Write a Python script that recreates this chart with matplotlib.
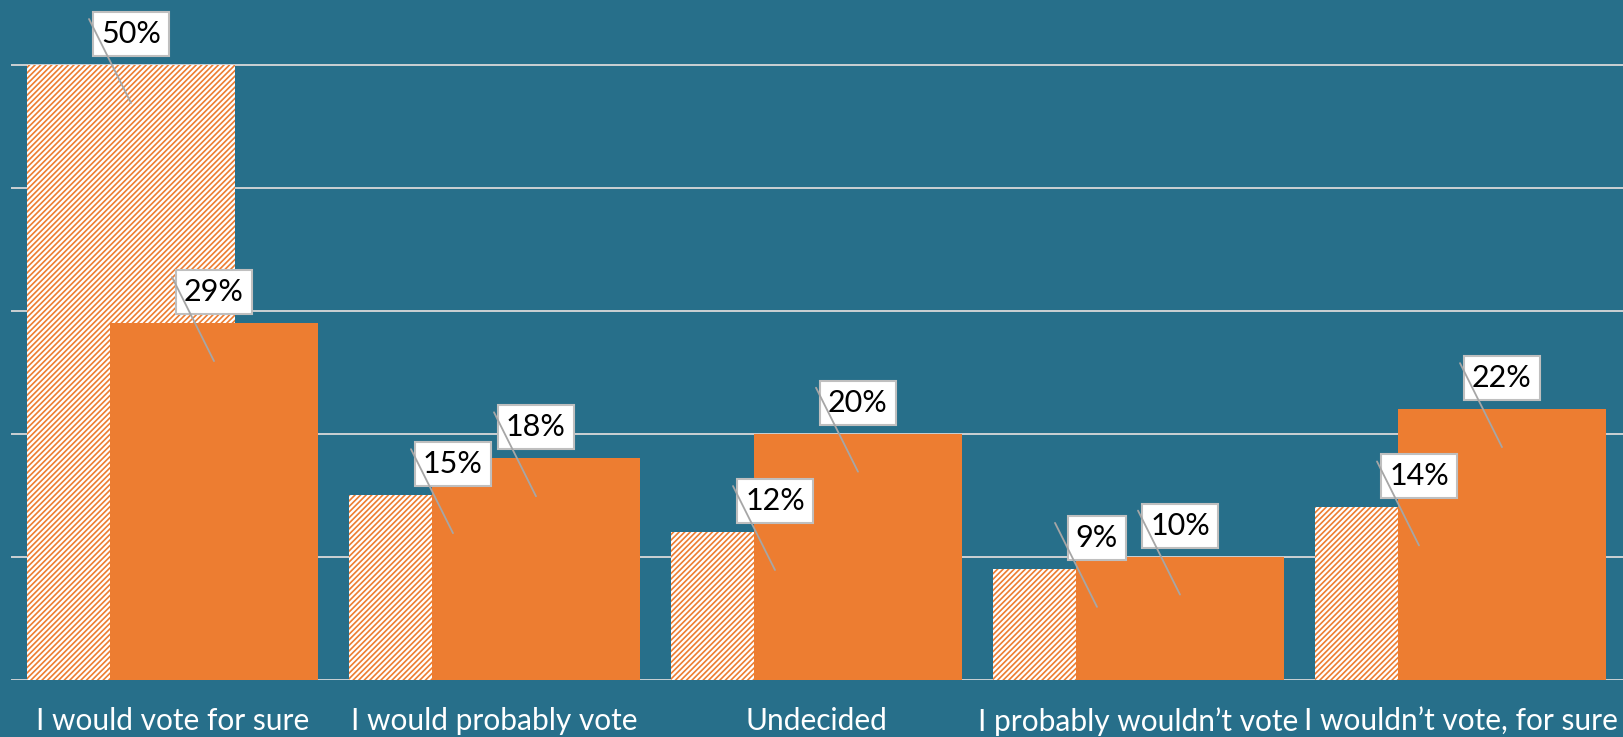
import matplotlib
matplotlib.use("Agg")
import matplotlib.pyplot as plt
from matplotlib.transforms import offset_copy
import numpy as np

categories = ["I would vote for sure", "I would probably vote", "Undecided",
              "I probably wouldn\u2019t vote", "I wouldn\u2019t vote, for sure"]
series_hatched = [50, 15, 12, 9, 14]
series_solid = [29, 18, 20, 10, 22]
label_hatched = ["50%", "15%", "12%", "9%", "14%"]
label_solid = ["29%", "18%", "20%", "10%", "22%"]
grid_values = [0, 10, 20, 30, 40, 50]

BG = "#276F8A"
ORANGE = "#ED7D31"
GRID = "#D9D9D9"

plt.rcParams['font.family'] = ['Lato', 'DejaVu Sans']
plt.rcParams['hatch.linewidth'] = 1.2

W, H = 1624, 737
dpi = 100
fig = plt.figure(figsize=(W / dpi, H / dpi), dpi=dpi, facecolor=BG)
ax = fig.add_axes([11 / W, 57.5 / H, (W - 11) / W, (H - 57.5) / H])
ax.set_facecolor(BG)

x = np.arange(len(categories))
bw = 208 / 322
off = 41.5 / 322

for v in grid_values:
    ax.axhline(v, color=GRID, lw=1.3, zorder=1)

ax.bar(x - off, series_hatched, width=bw, facecolor="white", edgecolor=ORANGE,
       hatch="//////", linewidth=0, zorder=2)
ax.bar(x + off, series_solid, width=bw, color=ORANGE, linewidth=0, zorder=3)

ax.set_xlim(-161.5 / 322, 4 + (W - 1460.5) / 322)
ax.set_ylim(0, 679.5 / 12.29)
ax.set_xticks(x)
ax.set_xticklabels(categories, color="white", fontsize=21.5)
ax.tick_params(axis='x', length=0, pad=20)
ax.set_yticks([])
for s in ax.spines.values():
    s.set_visible(False)

end_tr = offset_copy(ax.transData, fig=fig, x=0, y=-38, units='dots')

def add_label(xc, v, txt):
    ax.annotate(txt, xy=(xc, v), xytext=(0, 31), textcoords='offset pixels',
                ha='center', va='center', fontsize=22, color='black', zorder=5,
                bbox=dict(boxstyle='square,pad=0.26', fc='white', ec='#BFBFBF', lw=1.5))
    ax.annotate('', xy=(xc, v), xycoords=end_tr, xytext=(-42, 84),
                textcoords='offset pixels', zorder=6,
                arrowprops=dict(arrowstyle='-', color='#A6A6A6', lw=1.3,
                                shrinkA=0, shrinkB=0))

for i in range(len(categories)):
    add_label(x[i] - off, series_hatched[i], label_hatched[i])
    add_label(x[i] + off, series_solid[i], label_solid[i])

fig.savefig("out.png", dpi=dpi, facecolor=BG)
